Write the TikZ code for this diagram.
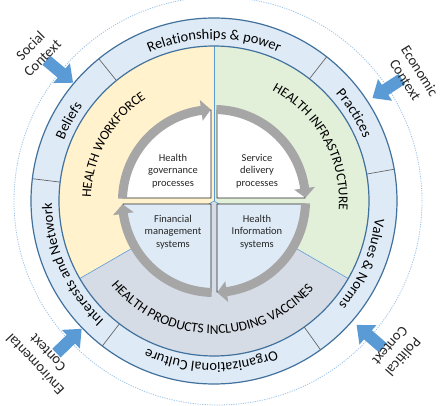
\documentclass[tikz,border=0pt]{standalone}
\usepackage{fontspec}
\setmainfont{Carlito}
\usepackage{tikz}
\usetikzlibrary{decorations.text}

\definecolor{ringblue}{HTML}{DEEBF7}
\definecolor{ringline}{HTML}{41719C}
\definecolor{wfyellow}{HTML}{FFF2CC}
\definecolor{infgreen}{HTML}{E2F0D9}
\definecolor{prodgray}{HTML}{D6DCE5}
\definecolor{ctxblue}{HTML}{5B9BD5}
\definecolor{cyclegray}{HTML}{A6A6A6}
\definecolor{dotblue}{HTML}{9DC3E6}

\begin{document}
\begin{tikzpicture}[x=1pt,y=1pt,
    sector/.style={draw=ctxblue,line width=0.6pt},
    quarter/.style={draw=black!85,line width=0.8pt},
    qtext/.style={align=center,font=\fontsize{10.5}{12.5}\selectfont,text=black!85},
    ctxtext/.style={align=center,font=\fontsize{14.5}{17}\selectfont,text=black!85},
    ringtext/.style={decorate,decoration={text along path,text align=center,
      text={|\fontsize{14.5}{17}\selectfont|#1}}},
    captext/.style={decorate,decoration={text along path,text align=center,
      text={|\fontsize{13.5}{16}\selectfont|#1}}},
    ctxarrow/.pic={\fill[ctxblue] (0,0) -- (-15,13) -- (-15,6) -- (-35,6)
      -- (-35,-6) -- (-15,-6) -- (-15,-13) -- cycle;}
  ]
  \useasboundingbox (-214,-205) rectangle (226,201);
  \draw[dotblue,line width=0.8pt,dash pattern=on 1.2pt off 1.2pt] (4,0) circle[radius=204pt];

  % sectors
  \fill[wfyellow] (0,0) -- (90:155pt) arc[start angle=90,end angle=210,radius=155pt] -- cycle;
  \fill[prodgray] (0,0) -- (210:155pt) arc[start angle=210,end angle=330,radius=155pt] -- cycle;
  \fill[infgreen] (0,0) -- (330:155pt) arc[start angle=330,end angle=450,radius=155pt] -- cycle;
  \foreach \a in {90,210,330}
    \draw[sector] (0,0) -- (\a:155pt);

  % outer ring
  \fill[ringblue,even odd rule] (0,0) circle[radius=183pt] (0,0) circle[radius=155pt];
  \draw[ringline,line width=1.2pt] (0,0) circle[radius=183pt];
  \draw[ringline,line width=1.2pt] (0,0) circle[radius=155pt];
  \foreach \a in {10,52,129,173,232.4,305.6}
    \draw[black!60,line width=0.7pt] (\a:155pt) -- (\a:183pt);

  \path[ringtext={Relationships {\&} power}] (150:162pt) arc[start angle=150,end angle=30,radius=162pt];
  \path[ringtext={Practices}] (92:162pt) arc[start angle=92,end angle=-28,radius=162pt];
  \path[ringtext={Values {\&} Norms}] (37:162pt) arc[start angle=37,end angle=-83,radius=162pt];
  \path[ringtext={Organizational Culture}] (329:162pt) arc[start angle=329,end angle=209,radius=162pt];
  \path[ringtext={Interests and Network}] (264:162pt) arc[start angle=264,end angle=144,radius=162pt];
  \path[ringtext={Beliefs}] (211:162pt) arc[start angle=211,end angle=91,radius=162pt];

  \path[captext={HEALTH WORKFORCE}] (211:123pt) arc[start angle=211,end angle=91,radius=123pt];
  \path[captext={HEALTH INFRASTRUCTURE}] (89:125pt) arc[start angle=89,end angle=-31,radius=125pt];
  \path[captext={HEALTH PRODUCTS INCLUDING VACCINES}] (209:133pt) arc[start angle=209,end angle=329,radius=133pt];

  % quadrants
  \filldraw[quarter,fill=white] (-3,3) -- (-3,91) arc[start angle=90,end angle=180,radius=88pt] -- cycle;
  \filldraw[quarter,fill=white] (3,3) -- (91,3) arc[start angle=0,end angle=90,radius=88pt] -- cycle;
  \filldraw[quarter,fill=ringblue] (-3,-3) -- (-91,-3) arc[start angle=180,end angle=270,radius=88pt] -- cycle;
  \filldraw[quarter,fill=ringblue] (3,-3) -- (3,-91) arc[start angle=270,end angle=360,radius=88pt] -- cycle;

  \foreach \a in {180,90,0,-90}
    \fill[cyclegray] ({\a-1.5}:96pt) arc[start angle=\a-1.5,end angle=\a-82,radius=96pt]
      -- ({\a-82}:102pt) -- ({\a-88}:91.5pt) -- ({\a-82}:81pt) -- ({\a-82}:87pt)
      arc[start angle=\a-82,end angle=\a-1.5,radius=87pt] -- cycle;

  \node[qtext] (gov) at (-41,30) {Health\\governance\\processes};
  \node[qtext] (serv) at (43,30) {Service\\delivery\\processes};
  \node[qtext] (fin) at (-41,-31) {Financial\\management\\systems};
  \node[qtext] (info) at (43,-31) {Health\\Information\\systems};

  % context arrows
  \pic[rotate=-40] at (140:184pt) {ctxarrow};
  \pic[rotate=-147] at (33:189pt) {ctxarrow};
  \pic[rotate=44] at (224:184pt) {ctxarrow};
  \pic[rotate=139] at (319:189pt) {ctxarrow};

  \node[ctxtext,rotate=45] (social) at (140:232pt) {Social\\Context};
  \node[ctxtext,rotate=-58] (economic) at (32.3:235pt) {Economic\\Context};
  \node[ctxtext,rotate=133] (environ) at (222.4:234pt) {Enviromental\\Context};
  \node[ctxtext,rotate=229] (political) at (320.5:237pt) {Political\\Context};
\end{tikzpicture}
\end{document}
